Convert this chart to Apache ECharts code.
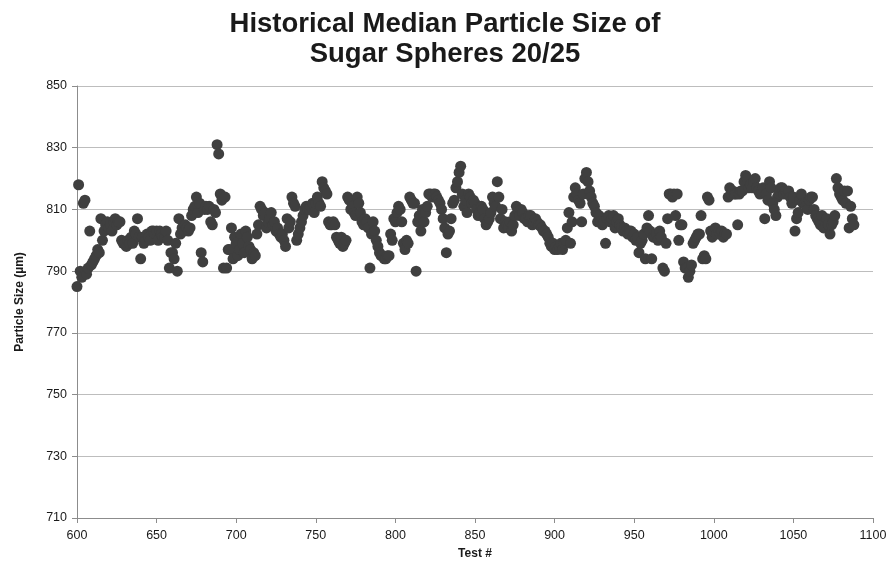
<!DOCTYPE html>
<html>
<head>
<meta charset="utf-8">
<title>Historical Median Particle Size of Sugar Spheres 20/25</title>
<script src="https://cdn.jsdelivr.net/npm/echarts@6/dist/echarts.min.js"></script>
<style>
  html, body { margin: 0; padding: 0; background: #ffffff; }
  #chart { width: 890px; height: 566px; }
</style>
</head>
<body>
<div id="chart"></div>
<script>
// Median particle size (µm) per test, one value per test number starting at firstTest.
const firstTest = 600;

const sizes600s = [
  785, 818, 790, 788, 812, 813, 789, 791, 803, 792,
  793, 794, 795, 797, 796, 807, 800, 803, 805, 806,
  804, 805, 803, 806, 807, 805, 806, 806, 800, 799,
  799, 798, 800, 799, 801, 799, 803, 802, 807, 801,
  794, 801, 799, 800, 802, 801, 800, 803, 803, 802,
  803, 800, 803, 802, 801, 801, 803, 800, 791, 796,
  796, 794, 799, 790, 807, 802, 804, 803, 805, 804,
  803, 804, 808, 810, 811, 814, 809, 812, 796, 793,
  810, 811, 810, 811, 806, 805, 810, 809, 831, 828
];

const sizes690s = [
  815, 813, 791, 814, 791, 797, 797, 804, 794, 801,
  799, 795, 797, 802, 799, 796, 803, 801, 798, 797,
  794, 796, 795, 802, 805, 811, 810, 808, 809, 804,
  806, 807, 809, 805, 806, 803, 804, 802, 801, 802,
  800, 798, 807, 804, 806, 814, 812, 811, 800, 802,
  804, 806, 808, 810, 811, 810, 810, 811, 812, 809,
  812, 814, 812, 811, 819, 817, 816, 815, 806, 805,
  805, 806, 805, 801, 800, 799, 801, 798, 799, 800,
  814, 813, 810, 811, 809, 808, 814, 812, 809, 806,
  805, 807, 806, 804, 791, 802, 806, 803, 800, 798,
  796, 795, 795, 794, 794, 795, 795, 802, 800, 807
];

const sizes800s = [
  806, 809, 811, 810, 806, 799, 797, 800, 799, 814,
  813, 812, 812, 790, 806, 808, 803, 810, 806, 809,
  811, 815, 815, 814, 815, 815, 814, 813, 812, 810,
  807, 804, 796, 802, 803, 807, 812, 813, 817, 819,
  822, 824, 815, 811, 813, 809, 815, 814, 812, 813,
  812, 810, 808, 809, 811, 810, 807, 805, 806, 807,
  809, 814, 812, 811, 819, 814, 807, 810, 804, 806,
  805, 804, 806, 803, 805, 808, 811, 810, 808, 810,
  809, 807, 807, 806, 808, 808, 805, 806, 807, 806,
  805, 805, 804, 803, 803, 802, 801, 799, 798, 799
];

const sizes900s = [
  797, 798, 797, 798, 799, 797, 799, 800, 804, 809,
  799, 806, 814, 817, 815, 813, 812, 806, 815, 820,
  822, 819, 816, 814, 812, 811, 809, 806, 808, 806,
  805, 806, 799, 807, 808, 806, 807, 808, 804, 806,
  807, 805, 804, 803, 804, 803, 802, 803, 803, 801,
  802, 800, 801, 796, 799, 800, 802, 794, 804, 808,
  803, 794, 801, 801, 802, 800, 803, 801, 791, 790,
  799, 807, 815, 815, 814, 815, 808, 815, 800, 805,
  805, 793, 791, 791, 788, 790, 792, 799, 800, 801,
  802, 802, 808, 794, 795, 794, 814, 813, 803, 801
];

const sizes1000s = [
  803, 804, 802, 803, 802, 803, 801, 802, 802, 814,
  817, 815, 816, 815, 815, 805, 815, 816, 816, 819,
  821, 820, 817, 818, 817, 819, 820, 817, 816, 815,
  816, 817, 807, 815, 813, 819, 817, 812, 810, 808,
  814, 815, 817, 817, 815, 816, 815, 816, 814, 812,
  814, 803, 807, 809, 813, 815, 812, 812, 811, 810,
  813, 814, 814, 810, 808, 807, 806, 805, 808, 804,
  806, 807, 805, 802, 805, 806, 808, 820, 817, 815,
  814, 813, 816, 812, 816, 804, 811, 807, 805
];

const xTicks = { min: 600, max: 1100, step: 50 };
const yTicks = { min: 710, max: 850, step: 20 };

const allSizes = [].concat(sizes600s, sizes690s, sizes800s, sizes900s, sizes1000s);
const points = allSizes.map((v, i) => [firstTest + i, v]);

const FONT = '"Liberation Sans", Arial, sans-serif';
const chart = echarts.init(document.getElementById('chart'), null, { renderer: 'canvas' });

chart.setOption({
  backgroundColor: '#ffffff',
  animation: false,
  title: {
    text: 'Historical Median Particle Size of\nSugar Spheres 20/25',
    left: 'center',
    top: 4,
    textStyle: {
      fontFamily: FONT,
      fontSize: 27.5,
      fontWeight: 'bold',
      color: '#1a1a1a',
      lineHeight: 30
    }
  },
  grid: { left: 77, right: 17, top: 86, bottom: 48, containLabel: false },
  xAxis: {
    type: 'value',
    min: xTicks.min,
    max: xTicks.max,
    interval: xTicks.step,
    name: 'Test #',
    nameLocation: 'middle',
    nameGap: 30,
    nameTextStyle: { fontFamily: FONT, fontSize: 12, fontWeight: 'bold', color: '#1a1a1a' },
    axisLine: { show: true, lineStyle: { color: '#8c8c8c', width: 1 } },
    axisTick: { show: true, length: 5, lineStyle: { color: '#8c8c8c' } },
    axisLabel: {
      fontFamily: FONT, fontSize: 12.5, color: '#1a1a1a', margin: 11,
      formatter: (v) => String(v)
    },
    splitLine: { show: false }
  },
  yAxis: {
    type: 'value',
    min: yTicks.min,
    max: yTicks.max,
    interval: yTicks.step,
    name: 'Particle Size (µm)',
    nameLocation: 'middle',
    nameGap: 51,
    nameTextStyle: { fontFamily: FONT, fontSize: 12, fontWeight: 'bold', color: '#1a1a1a' },
    axisLine: { show: true, lineStyle: { color: '#8c8c8c', width: 1 } },
    axisTick: { show: true, length: 5, lineStyle: { color: '#8c8c8c' } },
    axisLabel: { fontFamily: FONT, fontSize: 12.5, color: '#1a1a1a', margin: 10 },
    splitLine: { show: true, lineStyle: { color: '#bdbdbd', width: 1 } }
  },
  series: [{
    type: 'scatter',
    data: points,
    symbol: 'circle',
    symbolSize: 11,
    itemStyle: { color: '#3f3f3f', opacity: 1 }
  }]
});
</script>
</body>
</html>
